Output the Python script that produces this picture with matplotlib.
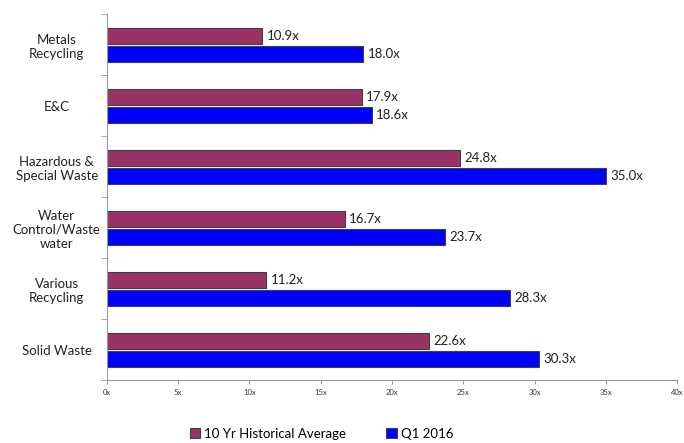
import numpy as np
import matplotlib.pyplot as plt

# data
categories = ["Metals\nRecycling", "E&C", "Hazardous &\nSpecial Waste",
              "Water\nControl/Waste\nwater", "Various\nRecycling", "Solid Waste"]
hist_avg = [10.9, 17.9, 24.8, 16.7, 11.2, 22.6]
q1_2016 = [18.0, 18.6, 35.0, 23.7, 28.3, 30.3]
xticks = [0, 5, 10, 15, 20, 25, 30, 35, 40]

plt.rcParams['font.family'] = ['Lato', 'DejaVu Sans']

fig = plt.figure(figsize=(6.84, 4.43), dpi=100)
ax = fig.add_axes([0.156, 0.142, 0.834, 0.826])

y = np.arange(len(categories))
h = 0.26
gap = 0.035
b1 = ax.barh(y - h / 2 - gap / 2, hist_avg, height=h, color="#993366",
             edgecolor="#404040", linewidth=0.8, label="10 Yr Historical Average")
b2 = ax.barh(y + h / 2 + gap / 2, q1_2016, height=h, color="#0000FF",
             edgecolor="#404040", linewidth=0.8, label="Q1 2016")

for bars, vals in [(b1, hist_avg), (b2, q1_2016)]:
    for bar, v in zip(bars, vals):
        ax.text(v + 0.3, bar.get_y() + bar.get_height() / 2, f"{v:.1f}x",
                va="center", ha="left", fontsize=9.5, color="#222222")

ax.set_xlim(0, 40)
ax.set_ylim(len(categories) - 0.5, -0.5)
ax.set_xticks(xticks)
ax.set_xticklabels([f"{t}x" for t in xticks], fontsize=5.5, color="#333333")
ax.set_yticks(y)
ax.set_yticklabels(categories, fontsize=9.5, ha="center", color="#222222")
ax.tick_params(axis="y", length=0, pad=36)
ax.set_yticks(np.arange(-0.5, len(categories)), minor=True)
ax.tick_params(axis="y", which="minor", length=4, color="#999999")
ax.tick_params(axis="x", length=3, color="#999999")

for s in ["top", "right"]:
    ax.spines[s].set_visible(False)
for s in ["left", "bottom"]:
    ax.spines[s].set_color("#999999")

fig.legend(handles=[b1, b2], loc="lower center", bbox_to_anchor=(0.47, -0.02),
           ncol=2, frameon=False, fontsize=9.5, handlelength=0.8, handleheight=0.8,
           columnspacing=3, handletextpad=0.3)

fig.savefig("out.png", dpi=100)
